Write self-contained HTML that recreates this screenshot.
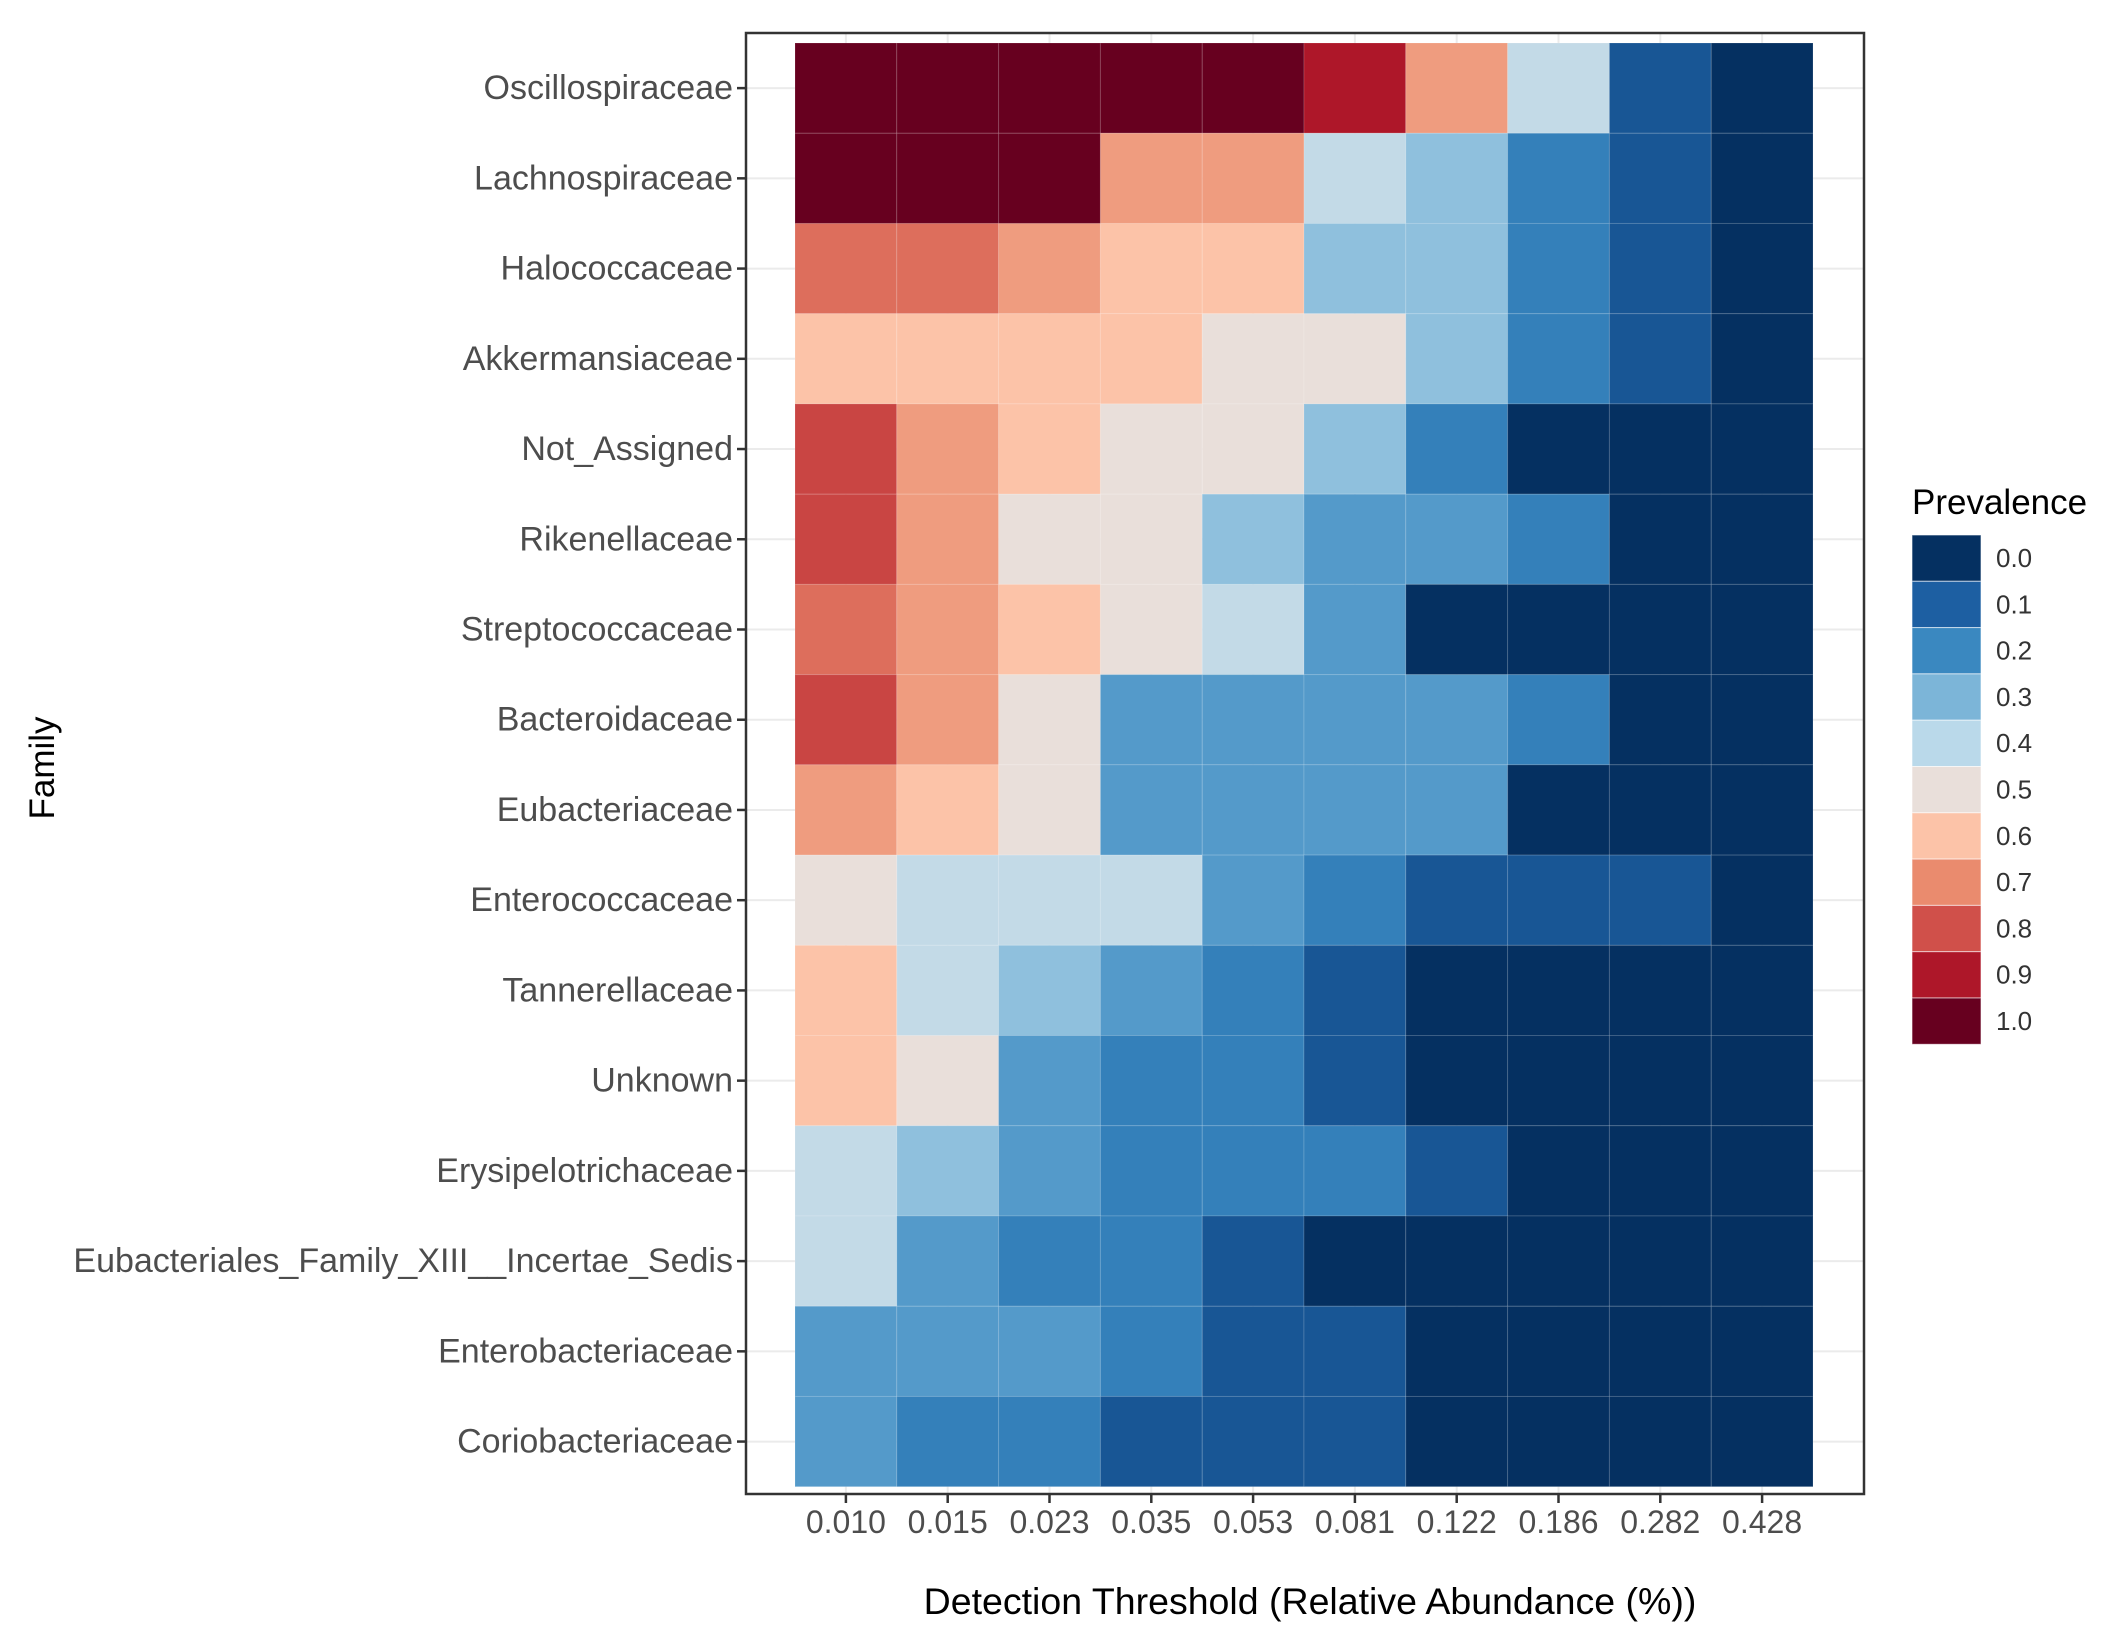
<!DOCTYPE html>
<html><head><meta charset="utf-8"><style>
html,body{margin:0;padding:0;background:#fff;}
svg{display:block;font-family:"Liberation Sans",sans-serif;}
</style></head><body>
<svg id="chart" width="2120" height="1647" viewBox="0 0 2120 1647">
<rect x="746" y="33" width="1118" height="1461" fill="#fff"/>
<g id="grid"></g>
<g id="cells"></g>
<rect x="746" y="33" width="1118" height="1461" fill="none" stroke="#333" stroke-width="2.5"/>
<g id="yaxis"></g>
<g id="xaxis"></g>
<text x="54" y="768" transform="rotate(-90 54 768)" text-anchor="middle" font-size="35" fill="#000">Family</text>
<text x="1310" y="1614" text-anchor="middle" font-size="37.5" fill="#000">Detection Threshold (Relative Abundance (%))</text>
<text x="1912" y="514" font-size="35" fill="#000">Prevalence</text>
<g id="legend"></g>
</svg>
<script>
const families = ["Oscillospiraceae","Lachnospiraceae","Halococcaceae","Akkermansiaceae","Not_Assigned","Rikenellaceae","Streptococcaceae","Bacteroidaceae","Eubacteriaceae","Enterococcaceae","Tannerellaceae","Unknown","Erysipelotrichaceae","Eubacteriales_Family_XIII__Incertae_Sedis","Enterobacteriaceae","Coriobacteriaceae"];
const thresholds = ["0.010","0.015","0.023","0.035","0.053","0.081","0.122","0.186","0.282","0.428"];
const prevalence = [
[1,1,1,1,1,0.9,0.67,0.42,0.08,0],
[1,1,1,0.67,0.67,0.42,0.33,0.18,0.08,0],
[0.75,0.75,0.67,0.6,0.6,0.33,0.33,0.18,0.08,0],
[0.6,0.6,0.6,0.6,0.5,0.5,0.33,0.18,0.08,0],
[0.82,0.67,0.6,0.5,0.5,0.33,0.18,0,0,0],
[0.82,0.67,0.5,0.5,0.33,0.24,0.24,0.18,0,0],
[0.75,0.67,0.6,0.5,0.42,0.24,0,0,0,0],
[0.82,0.67,0.5,0.24,0.24,0.24,0.24,0.18,0,0],
[0.67,0.6,0.5,0.24,0.24,0.24,0.24,0,0,0],
[0.5,0.42,0.42,0.42,0.24,0.18,0.08,0.08,0.08,0],
[0.6,0.42,0.33,0.24,0.18,0.08,0,0,0,0],
[0.6,0.5,0.24,0.18,0.18,0.08,0,0,0,0],
[0.42,0.33,0.24,0.18,0.18,0.18,0.08,0,0,0],
[0.42,0.24,0.18,0.18,0.08,0,0,0,0,0],
[0.24,0.24,0.24,0.18,0.08,0.08,0,0,0,0],
[0.24,0.18,0.18,0.08,0.08,0.08,0,0,0,0]
];
const legendValues = [0,0.1,0.2,0.3,0.4,0.5,0.6,0.7,0.8,0.9,1.0];
const legendLabels = ["0.0","0.1","0.2","0.3","0.4","0.5","0.6","0.7","0.8","0.9","1.0"];

const stops = ["#053061","#1d5fa2","#3a88c0","#7cb5d8","#bad9ea","#e9dfda","#fcc3a8","#ea8b6e","#d0504a","#ae1729","#67001f"];
function hex(c){return [1,3,5].map(i=>parseInt(c.substr(i,2),16));}
function color(v){
  v=Math.max(0,Math.min(1,v));const p=v*10,i=Math.min(9,Math.floor(p)),t=p-i;
  const a=hex(stops[i]),b=hex(stops[i+1]);
  return "rgb("+a.map((x,k)=>Math.round(x+(b[k]-x)*t)).join(",")+")";
}
const NS="http://www.w3.org/2000/svg";
const X0=795,CW=101.8,Y0=43,RH=90.23;
function xPos(i){return X0+i*CW;}
function yPos(j){return Y0+j*RH;}
function mk(tag,attrs,parent){const e=document.createElementNS(NS,tag);for(const k in attrs)e.setAttribute(k,attrs[k]);parent.appendChild(e);return e;}
const grid=document.getElementById("grid"),cells=document.getElementById("cells"),ya=document.getElementById("yaxis"),xa=document.getElementById("xaxis"),lg=document.getElementById("legend");
families.forEach((f,j)=>{
  const cy=yPos(j)+RH/2;
  const g=mk("line",{x1:746,x2:1864,y1:cy,y2:cy,stroke:"#ebebeb","stroke-width":2},grid);
  
  
  const t=mk("line",{x1:737,x2:746,y1:cy,y2:cy,stroke:"#333","stroke-width":2.5},ya);
  
  
  const l=mk("text",{x:733,y:cy+11,"text-anchor":"end","font-size":34,fill:"#4d4d4d"},ya);
  l.textContent=f;
  
  
});
thresholds.forEach((th,i)=>{
  const cx=xPos(i)+CW/2;
  const g=mk("line",{x1:cx,x2:cx,y1:33,y2:1494,stroke:"#ebebeb","stroke-width":2},grid);
  
  
  const t=mk("line",{x1:cx,x2:cx,y1:1494,y2:1503,stroke:"#333","stroke-width":2.5},xa);
  
  
  const l=mk("text",{x:cx,y:1533,"text-anchor":"middle","font-size":32,fill:"#4d4d4d"},xa);
  l.textContent=th;
  
  
});
prevalence.forEach((row,j)=>row.forEach((v,i)=>{
  const r=mk("rect",{x:xPos(i),y:yPos(j),width:CW,height:RH,fill:color(v),stroke:"rgba(255,255,255,0.15)","stroke-width":1},cells);
  
  
}));
legendValues.forEach((v,k)=>{
  const y=535+k*46.3;
  const r=mk("rect",{x:1912,y:y,width:69,height:46.3,fill:color(v),stroke:"rgba(255,255,255,0.6)","stroke-width":1},lg);
  
  
  const t=mk("text",{x:1996,y:y+32,"font-size":26,fill:"#333"},lg);
  t.textContent=legendLabels[k];
  
  
});
</script>
</body></html>
